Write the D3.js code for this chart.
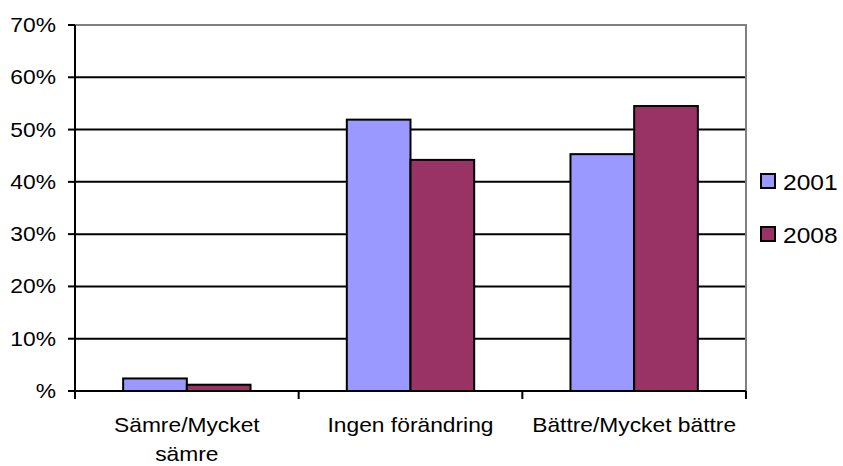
<!DOCTYPE html>
<html>
<head>
<meta charset="utf-8">
<script src="https://cdn.jsdelivr.net/npm/d3@7"></script>
<style>
  html, body { margin: 0; padding: 0; background: #fff; }
  text { font-family: "Liberation Sans", Arial, sans-serif; fill: #000; }
</style>
</head>
<body>
<div id="chart"></div>
<script>
// Category labels (line breaks mark where the label wraps)
const categories = ["Sämre/Mycket\nsämre", "Ingen förändring", "Bättre/Mycket bättre"];
const seriesNames = ["2001", "2008"];
const values2001 = [2.4, 51.9, 45.3];
const values2008 = [1.2, 44.2, 54.5];
const yTicks = [0, 10, 20, 30, 40, 50, 60, 70];
const yTickLabels = ["%", "10%", "20%", "30%", "40%", "50%", "60%", "70%"];
const colors = ["#9999FF", "#993366"];

const W = 843, H = 466;
const plot = { left: 75, right: 746, top: 25, bottom: 391 };
const sx = 1.14; // horizontal stretch of the text

const svg = d3.select("#chart").append("svg")
  .attr("width", W).attr("height", H)
  .style("display", "block");

svg.append("rect").attr("width", W).attr("height", H).attr("fill", "#fff");

const x0 = d3.scaleBand().domain(categories).range([plot.left, plot.right]).padding(0);
const x1 = d3.scaleBand().domain(seriesNames).range([0, x0.bandwidth()])
  .paddingInner(0).paddingOuter(0.756);
const y = d3.scaleLinear().domain([0, 70]).range([plot.bottom, plot.top]);

// horizontal gridlines
svg.append("g").selectAll("line")
  .data(yTicks.filter(t => t > 0 && t < 70))
  .join("line")
  .attr("x1", plot.left).attr("x2", plot.right)
  .attr("y1", d => y(d)).attr("y2", d => y(d))
  .attr("stroke", "#000").attr("stroke-width", 2);

// plot border (top and right, gray)
svg.append("path")
  .attr("d", `M${plot.left},${y(70)}H${plot.right}V${plot.bottom}`)
  .attr("fill", "none").attr("stroke", "#808080").attr("stroke-width", 2);

// bars
const rows = categories.map((c, i) => ({ cat: c, vals: [values2001[i], values2008[i]] }));
const groups = svg.append("g").selectAll("g")
  .data(rows).join("g")
  .attr("transform", d => `translate(${x0(d.cat)},0)`);
groups.selectAll("rect")
  .data(d => d.vals.map((v, j) => ({ key: seriesNames[j], v, j })))
  .join("rect")
  .attr("x", d => x1(d.key))
  .attr("width", x1.bandwidth())
  .attr("y", d => y(d.v))
  .attr("height", d => y(0) - y(d.v))
  .attr("fill", d => colors[d.j])
  .attr("stroke", "#000").attr("stroke-width", 2);

// y axis
const yAxis = svg.append("g").attr("transform", `translate(${plot.left},0)`);
yAxis.append("line")
  .attr("x1", 0).attr("x2", 0).attr("y1", y(70)).attr("y2", y(0) + 8)
  .attr("stroke", "#000").attr("stroke-width", 2);
yAxis.selectAll("line.tick")
  .data(yTicks).join("line").attr("class", "tick")
  .attr("x1", -7).attr("x2", 0)
  .attr("y1", d => y(d)).attr("y2", d => y(d))
  .attr("stroke", "#000").attr("stroke-width", 2);
yAxis.selectAll("text")
  .data(yTicks).join("text")
  .attr("transform", d => `translate(-19,${y(d) + 7}) scale(${sx},1)`)
  .attr("text-anchor", "end")
  .style("font-size", "20px")
  .text((d, i) => yTickLabels[i]);

// x axis
const xAxis = svg.append("g");
xAxis.append("line")
  .attr("x1", plot.left).attr("x2", plot.right)
  .attr("y1", plot.bottom).attr("y2", plot.bottom)
  .attr("stroke", "#000").attr("stroke-width", 2);
const bounds = categories.map(c => x0(c)).concat([plot.right]);
xAxis.selectAll("line.tick")
  .data(bounds).join("line").attr("class", "tick")
  .attr("x1", d => d).attr("x2", d => d)
  .attr("y1", plot.bottom).attr("y2", plot.bottom + 8)
  .attr("stroke", "#000").attr("stroke-width", 2);
const catLabels = xAxis.selectAll("text")
  .data(categories).join("text")
  .attr("transform", d => `translate(${x0(d) + x0.bandwidth() / 2},432) scale(${sx},1)`)
  .attr("text-anchor", "middle")
  .style("font-size", "20px");
catLabels.selectAll("tspan")
  .data(d => d.split("\n"))
  .join("tspan")
  .attr("x", 0)
  .attr("dy", (d, i) => i === 0 ? 0 : 29)
  .text(d => d);

// legend
const legend = svg.append("g").selectAll("g")
  .data(seriesNames).join("g")
  .attr("transform", (d, i) => `translate(761,${174 + i * 53})`);
legend.append("rect")
  .attr("width", 14).attr("height", 14)
  .attr("fill", (d, i) => colors[i])
  .attr("stroke", "#000").attr("stroke-width", 2);
legend.append("text")
  .attr("transform", `translate(22,15.5) scale(${sx},1)`)
  .style("font-size", "21.5px")
  .text(d => d);
</script>
</body>
</html>
